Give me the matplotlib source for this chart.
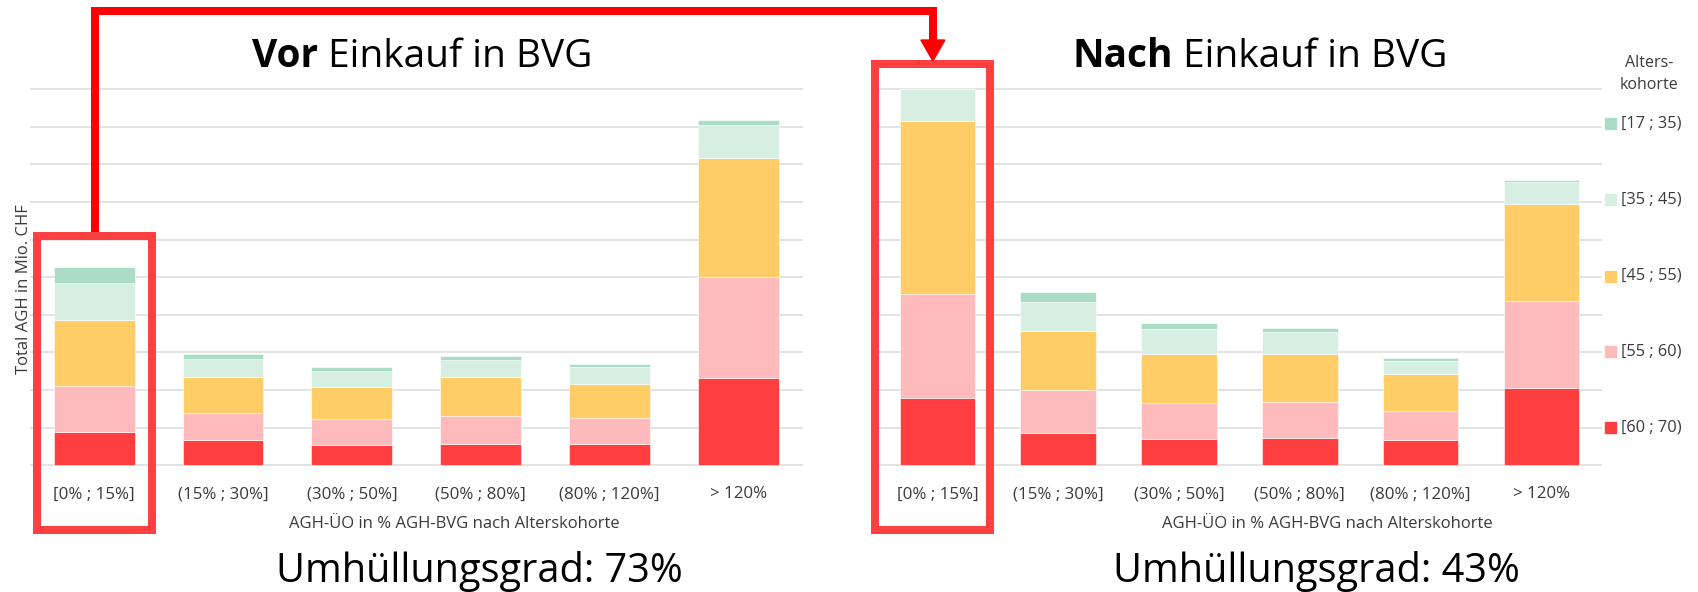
import matplotlib
matplotlib.use("Agg")
import matplotlib.pyplot as plt
import numpy as np
from matplotlib.patches import Rectangle, Polygon
from matplotlib.lines import Line2D

plt.rcParams['font.family'] = ['Open Sans', 'DejaVu Sans']

W, H = 1698, 592

categories = ["[0% ; 15%]", "(15% ; 30%]", "(30% ; 50%]", "(50% ; 80%]", "(80% ; 120%]", "> 120%"]
# age cohorts, stacked from bottom to top
cohorts = ["[60 ; 70)", "[55 ; 60)", "[45 ; 55)", "[35 ; 45)", "[17 ; 35)"]
cohort_colors = ["#FF3F3F", "#FFBBBB", "#FFCC66", "#D7EFE2", "#ABDDC6"]

# Total AGH (Mio. CHF, relative units) before the BVG purchase
vor_60_70 = [0.88, 0.66, 0.55, 0.57, 0.57, 2.33]
vor_55_60 = [1.24, 0.73, 0.68, 0.74, 0.68, 2.68]
vor_45_55 = [1.75, 0.96, 0.86, 1.04, 0.92, 3.15]
vor_35_45 = [0.98, 0.48, 0.41, 0.45, 0.43, 0.88]
vor_17_35 = [0.41, 0.13, 0.11, 0.11, 0.09, 0.13]

# Total AGH after the BVG purchase
nach_60_70 = [1.78, 0.87, 0.69, 0.73, 0.66, 2.06]
nach_55_60 = [2.76, 1.12, 0.97, 0.94, 0.77, 2.30]
nach_45_55 = [4.61, 1.59, 1.30, 1.28, 0.99, 2.59]
nach_35_45 = [0.85, 0.77, 0.66, 0.58, 0.36, 0.58]
nach_17_35 = [0.00, 0.25, 0.16, 0.13, 0.06, 0.06]

umhuellung_vor = "73%"
umhuellung_nach = "43%"

fig = plt.figure(figsize=(W / 100, H / 100), dpi=100)


def fx(x):
    return x / W


def fy(y):
    return 1 - y / H


UNIT = 37.63          # pixels per axis unit
BASE = 465.3          # pixel row of y = 0
Y0, Y1 = -0.1, 10.1


def make_axes(left, width):
    top = BASE - Y1 * UNIT
    bottom = BASE - Y0 * UNIT
    return fig.add_axes([fx(left), fy(bottom), width / W, (bottom - top) / H])


def draw(ax, series):
    x = np.arange(len(categories))
    bottom = np.zeros(len(categories))
    for vals, color, name in zip(series, cohort_colors, cohorts):
        vals = np.asarray(vals)
        ax.bar(x, vals, width=0.627, bottom=bottom, color=color,
               edgecolor='white', linewidth=0.4, label=name, zorder=2)
        bottom += vals
    ax.set_xlim(-0.5, 5.5)
    ax.set_ylim(Y0, Y1)
    ax.set_yticks(np.arange(0, 11, 1))
    ax.yaxis.grid(True, color='#DEDEDE', linewidth=1.2)
    ax.set_axisbelow(True)
    ax.tick_params(axis='y', length=0, labelleft=False)
    ax.tick_params(axis='x', length=0, pad=12.5, labelsize=12.2, labelcolor='#3A3A3A')
    for s in ax.spines.values():
        s.set_visible(False)
    ax.set_xticks(x, categories)
    ax.set_xlabel("AGH-ÜO in % AGH-BVG nach Alterskohorte", fontsize=12, color='#3A3A3A')
    ax.xaxis.label.set_va('center')


ax_l = make_axes(29.8, 772.9)
ax_r = make_axes(877.0, 724.8)

draw(ax_l, [vor_60_70, vor_55_60, vor_45_55, vor_35_45, vor_17_35])
draw(ax_r, [nach_60_70, nach_55_60, nach_45_55, nach_35_45, nach_17_35])

ax_l.xaxis.set_label_coords(0.549, -0.143)
ax_r.xaxis.set_label_coords(0.621, -0.143)

ax_l.set_ylabel("Total AGH in Mio. CHF", fontsize=12, color='#3A3A3A')
ax_l.yaxis.set_label_coords(0.003, 0.47)

# titles with bold lead word
renderer = fig.canvas.get_renderer()


def mixed_title(cx, baseline, bold, rest, size=28):
    t1 = fig.text(0, fy(baseline), bold, fontsize=size, fontweight='bold', va='baseline', ha='left')
    t2 = fig.text(0, fy(baseline), " " + rest, fontsize=size, va='baseline', ha='left')
    w1 = t1.get_window_extent(renderer).width
    w2 = t2.get_window_extent(renderer).width
    x0 = cx - (w1 + w2) / 2
    t1.set_x(fx(x0))
    t2.set_x(fx(x0 + w1))


mixed_title(422.2, 66.7, "Vor", "Einkauf in BVG")
mixed_title(1259.7, 66.7, "Nach", "Einkauf in BVG")

fig.text(fx(479.7), fy(581.7), "Umhüllungsgrad: " + umhuellung_vor, fontsize=28.6,
         ha='center', va='baseline')
fig.text(fx(1316.5), fy(581.7), "Umhüllungsgrad: " + umhuellung_nach, fontsize=28.6,
         ha='center', va='baseline')

# legend for the age cohorts
fig.text(fx(1649.3), fy(74), "Alters-\nkohorte", fontsize=11.5, ha='center', va='center',
         color='#3A3A3A', linespacing=1.5)
legend_rows = [123.3, 199.3, 276.0, 351.7, 427.7]
for row, name, color in zip(legend_rows, cohorts[::-1], cohort_colors[::-1]):
    fig.add_artist(Rectangle((fx(1604.5), fy(row + 5.5)), 11 / W, 11 / H,
                             transform=fig.transFigure, color=color))
    fig.text(fx(1620.7), fy(row), name, fontsize=11.8, ha='left', va='center', color='#3A3A3A')

# highlight boxes around the first category and the connecting arrow
cx_l = ax_l.transData.transform((0, 0))[0]
cx_r = ax_r.transData.transform((0, 0))[0]
lw = 8 * 72 / 100


def box(x0, x1, y0, y1):
    fig.add_artist(Rectangle((fx(x0), fy(y1)), (x1 - x0) / W, (y1 - y0) / H,
                             transform=fig.transFigure, fill=False, edgecolor='#FF4040',
                             linewidth=lw, joinstyle='miter', zorder=5))


box(cx_l - 57, cx_l + 58, 235.8, 529.5)
box(cx_r - 62, cx_r + 53, 64.2, 529.5)

x_up = cx_l + 0.7
x_down = cx_r - 4.5
fig.add_artist(Line2D([fx(x_up), fx(x_up), fx(x_down), fx(x_down)],
                      [fy(232), fy(10.8), fy(10.8), fy(42)],
                      transform=fig.transFigure, color='#FF0000', linewidth=lw,
                      solid_joinstyle='miter', solid_capstyle='butt', zorder=6))
fig.add_artist(Polygon([(fx(x_down - 12), fy(40)), (fx(x_down + 12), fy(40)),
                        (fx(x_down), fy(61))], closed=True, transform=fig.transFigure,
                       color='#FF0000', zorder=6))

fig.savefig("out.png", dpi=100)
